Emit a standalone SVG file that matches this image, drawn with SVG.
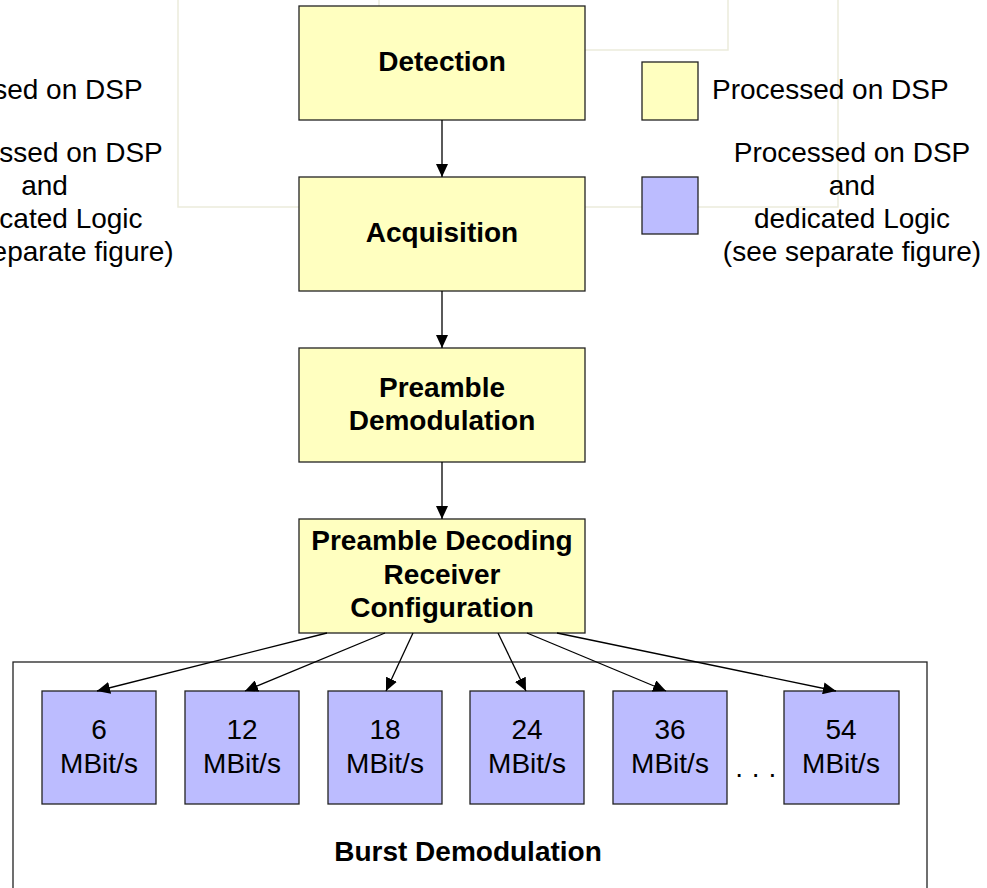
<svg xmlns="http://www.w3.org/2000/svg" width="987" height="888" viewBox="0 0 987 888">
<style>
  .bg{fill:#ffffff}
  .ghost{fill:none;stroke:#ebebdc;stroke-width:1.5}
  .dsp{fill:#ffffc0;stroke:#222;stroke-width:1.3}
  .logic{fill:#bcbcff;stroke:#222;stroke-width:1.3}
  .frame{fill:none;stroke:#222;stroke-width:1.3}
  .b{font-family:"Liberation Sans",Arial,sans-serif;font-weight:bold;font-size:28px;fill:#000;text-anchor:middle}
  .n{font-family:"Liberation Sans",Arial,sans-serif;font-size:28px;fill:#000;text-anchor:middle}
  .nl{font-family:"Liberation Sans",Arial,sans-serif;font-size:28px;fill:#000}
  .conn{fill:none;stroke:#000;stroke-width:1.3}
</style>
<defs>
  <marker id="ah" markerUnits="userSpaceOnUse" markerWidth="13" markerHeight="12" refX="13" refY="6" orient="auto">
    <path d="M0,0 L13,6 L0,12 z" fill="#000"/>
  </marker>
</defs>
<rect class="bg" x="0" y="0" width="987" height="888"/>

<g id="background-lines">
  <polyline class="ghost" points="178,0 178,207 299,207"/>
  <polyline class="ghost" points="585,207 838,207 838,0"/>
  <polyline class="ghost" points="585,50 728,50 728,0"/>
  <line class="ghost" x1="379" y1="0" x2="379" y2="6"/>
</g>

<g id="ghost-legend">
  <text class="nl" x="-94" y="99">Processed on DSP</text>
  <text class="n" x="44.5" y="162">Processed on DSP</text>
  <text class="n" x="44.5" y="195">and</text>
  <text class="n" x="44.5" y="228">dedicated Logic</text>
  <text class="n" x="44.5" y="261">(see separate figure)</text>
</g>

<g id="burst">
  <rect class="frame" x="13" y="662" width="914" height="240"/>
  <text class="b" x="468" y="861">Burst Demodulation</text>
</g>

<g id="detection">
  <rect class="dsp" x="299" y="6" width="286" height="114"/>
  <text class="b" x="442" y="71">Detection</text>
</g>
<g id="acquisition">
  <rect class="dsp" x="299" y="177" width="286" height="114"/>
  <text class="b" x="442" y="242">Acquisition</text>
</g>
<g id="preamble-demod">
  <rect class="dsp" x="299" y="348" width="286" height="114"/>
  <text class="b" x="442" y="397">Preamble</text>
  <text class="b" x="442" y="430">Demodulation</text>
</g>
<g id="preamble-decoding">
  <rect class="dsp" x="299" y="519" width="286" height="114"/>
  <text class="b" x="442" y="550">Preamble Decoding</text>
  <text class="b" x="442" y="584">Receiver</text>
  <text class="b" x="442" y="617">Configuration</text>
</g>

<g id="legend">
  <rect class="dsp" x="642" y="62" width="56" height="58"/>
  <text class="nl" x="712" y="99">Processed on DSP</text>
  <rect class="logic" x="642" y="177" width="56" height="57"/>
  <text class="n" x="852" y="162">Processed on DSP</text>
  <text class="n" x="852" y="195">and</text>
  <text class="n" x="852" y="228">dedicated Logic</text>
  <text class="n" x="852" y="261">(see separate figure)</text>
</g>

<g id="rate6">
  <rect class="logic" x="42" y="691" width="114" height="113"/>
  <text class="n" x="99" y="739">6</text>
  <text class="n" x="99" y="773">MBit/s</text>
</g>
<g id="rate12">
  <rect class="logic" x="185" y="691" width="114" height="113"/>
  <text class="n" x="242" y="739">12</text>
  <text class="n" x="242" y="773">MBit/s</text>
</g>
<g id="rate18">
  <rect class="logic" x="328" y="691" width="114" height="113"/>
  <text class="n" x="385" y="739">18</text>
  <text class="n" x="385" y="773">MBit/s</text>
</g>
<g id="rate24">
  <rect class="logic" x="470" y="691" width="114" height="113"/>
  <text class="n" x="527" y="739">24</text>
  <text class="n" x="527" y="773">MBit/s</text>
</g>
<g id="rate36">
  <rect class="logic" x="613" y="691" width="114" height="113"/>
  <text class="n" x="670" y="739">36</text>
  <text class="n" x="670" y="773">MBit/s</text>
</g>
<g id="ellipsis">
  <text class="n" x="756" y="777" letter-spacing="0.5">. . .</text>
</g>
<g id="rate54">
  <rect class="logic" x="784" y="691" width="115" height="113"/>
  <text class="n" x="841" y="739">54</text>
  <text class="n" x="841" y="773">MBit/s</text>
</g>

<g id="connectors">
  <line class="conn" x1="442" y1="120" x2="442" y2="177" marker-end="url(#ah)"/>
  <line class="conn" x1="442" y1="291" x2="442" y2="348" marker-end="url(#ah)"/>
  <line class="conn" x1="442" y1="462" x2="442" y2="519" marker-end="url(#ah)"/>
  <line class="conn" x1="327" y1="633" x2="97" y2="691" marker-end="url(#ah)"/>
  <line class="conn" x1="385" y1="633" x2="245" y2="691" marker-end="url(#ah)"/>
  <line class="conn" x1="413" y1="633" x2="386" y2="691" marker-end="url(#ah)"/>
  <line class="conn" x1="498" y1="633" x2="526" y2="691" marker-end="url(#ah)"/>
  <line class="conn" x1="527" y1="633" x2="666" y2="691" marker-end="url(#ah)"/>
  <line class="conn" x1="557" y1="633" x2="836" y2="691" marker-end="url(#ah)"/>
</g>
</svg>
